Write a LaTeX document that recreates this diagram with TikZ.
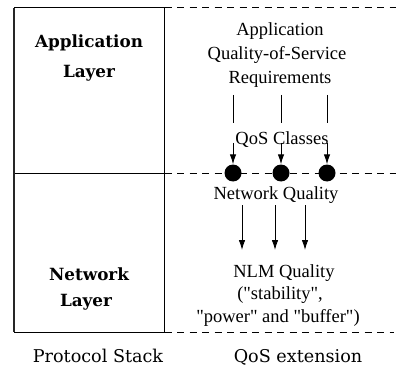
\documentclass[tikz,border=0pt]{standalone}
\usepackage{fontspec}
\setmainfont{Liberation Serif}[Ligatures=TeXOff]
\newfontfamily\labelfont{DejaVu Serif}
\usetikzlibrary{arrows.meta}

\tikzset{
  plain/.style={font=\fontsize{18.5}{24}\selectfont, inner sep=0pt, anchor=base},
  layertext/.style={font=\labelfont\bfseries\fontsize{16.8}{20}\selectfont, inner sep=0pt, anchor=base},
  captiontext/.style={font=\labelfont\fontsize{17.6}{20}\selectfont, inner sep=0pt, anchor=base},
  boundary/.style={line width=1pt, dash pattern=on 7pt off 5.5pt},
  stackbox/.style={line width=1pt},
  flow/.style={line width=0.9pt},
  flowarrow/.style={line width=0.9pt, -{Latex[length=10pt,width=6.5pt]}},
  classdot/.style={circle, fill=black, minimum size=17pt, inner sep=0pt}
}

\begin{document}
\begin{tikzpicture}[x=1pt,y=-1pt]
  \useasboundingbox (0,0) rectangle (398,366);

  % protocol stack box and its layer divider
  \draw[stackbox] (14,7.5) rectangle (164.5,332);
  \draw[stackbox] (14,173) -- (164.5,173);
  \draw[line width=1.4pt, black!85] (14,8) -- (14,332);

  % dashed layer boundaries of the QoS extension
  \draw[boundary] (164.5,7.5) -- (396,7.5);
  \draw[boundary] (164.5,173) -- (396,173);
  \draw[boundary] (164.5,332) -- (394,332);

  % layer names
  \node[layertext] (appA) at (89,48) {Application};
  \node[layertext] (appB) at (89,78) {Layer};
  \node[layertext] (netA) at (89,280) {Network};
  \node[layertext] (netB) at (86,306) {Layer};

  % application requirements
  \node[plain] (req1) at (280,35.5) {Application};
  \node[plain] (req2) at (277,59.5) {Quality-of-Service};
  \node[plain] (req3) at (280,83.5) {Requirements};

  % QoS class points on the layer boundary
  \node[classdot] (d1) at (233,173) {};
  \node[classdot] (d2) at (281,173) {};
  \node[classdot] (d3) at (327,173) {};

  \coordinate (t1) at (233,95);  \coordinate (b1) at (233,123);  \coordinate (m1) at (233,143);
  \coordinate (t2) at (281,95);  \coordinate (b2) at (281,123);  \coordinate (m2) at (281,143);
  \coordinate (t3) at (327,95);  \coordinate (b3) at (327,123);  \coordinate (m3) at (327,143);

  \draw[flow] (t1) -- (b1);
  \draw[flow] (t2) -- (b2);
  \draw[flow] (t3) -- (b3);
  \draw[flowarrow] (m1) -- (d1.north);
  \draw[flowarrow] (m2) -- (d2.north);
  \draw[flowarrow] (m3) -- (d3.north);

  \node[plain] (cls) at (282,145) {QoS Classes};

  % network side
  \node[plain] (netq) at (276,199) {Network Quality};

  \coordinate (u1) at (242,205);  \coordinate (v1) at (242,250);
  \coordinate (u2) at (275,205);  \coordinate (v2) at (275,250);
  \coordinate (u3) at (305,205);  \coordinate (v3) at (305,250);
  \draw[flowarrow] (u1) -- (v1);
  \draw[flowarrow] (u2) -- (v2);
  \draw[flowarrow] (u3) -- (v3);

  \node[plain] (nlm1) at (284,277) {NLM Quality};
  \node[plain] (nlm2) at (280,299.5) {("stability",};
  \node[plain] (nlm3) at (278,322) {"power" and "buffer")};

  % column captions
  \node[captiontext] (capL) at (98,362) {Protocol Stack};
  \node[captiontext] (capR) at (298,362) {QoS extension};
\end{tikzpicture}
\end{document}
